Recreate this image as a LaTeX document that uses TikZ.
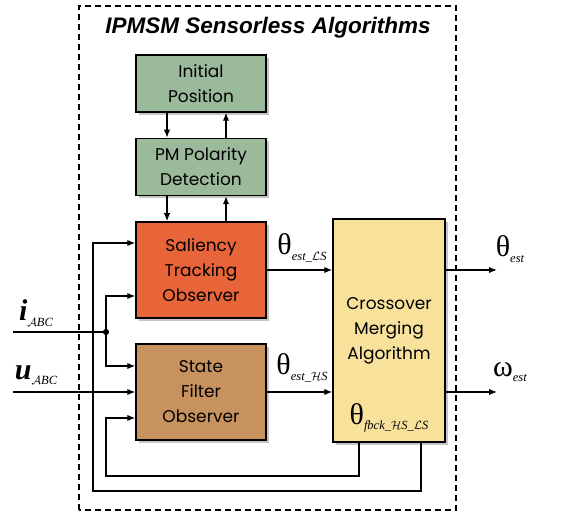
\documentclass[tikz,border=0pt]{standalone}
\usepackage{amsmath,amssymb}
\usepackage{fontspec}
\setmainfont{Poppins}
\newfontfamily\titlefont{Liberation Sans}
\newfontfamily\symfont{Liberation Serif}
\usepackage{tikz}
\usetikzlibrary{shapes, arrows, arrows.meta, shadows}
\definecolor{pmgreen}{RGB}{155,185,155}
\definecolor{salred}{RGB}{232,101,58}
\definecolor{sftan}{RGB}{200,146,94}
\definecolor{cmyellow}{RGB}{247,225,155}
\tikzstyle{block} =
        [
                rectangle,
                draw,
                line width = 1.5pt,
                align = center,
                minimum width = 130pt,
                minimum height = 57pt,
                font = \fontsize{17}{25}\selectfont,
                drop shadow = {shadow xshift = 3pt, shadow yshift = -3pt, fill = black!45}
        ]
\tikzstyle{line} =
        [
                draw,
                line width = 1.4pt,
                -{Latex[length = 8pt, width = 6.5pt]}
        ]
\tikzstyle{wire} =
        [
                draw,
                line width = 1.4pt
        ]
\tikzstyle{dot} =
        [
                circle,
                fill,
                inner sep = 2.2pt
        ]
\tikzstyle{sig} =
        [
                inner sep = 0pt
        ]
\newcommand{\sig}[2]{{\symfont\fontsize{30}{30}\selectfont #1}\raisebox{-1.0ex}{\symfont\itshape\fontsize{12.5}{12.5}\selectfont #2}}
\newcommand{\phase}[2]{{\symfont\bfseries\itshape\fontsize{30}{30}\selectfont #1}\raisebox{-1.0ex}{\symfont\itshape\fontsize{12.5}{12.5}\selectfont #2}}

\begin{document}
\begin{tikzpicture}[x = 1pt, y = 1pt, node distance = 83.5pt]
        \useasboundingbox (0,0) rectangle (574,511);
        \draw [line width = 1.4pt, dash pattern = on 6pt off 4pt] (79,1) rectangle (456,505);
        \node (title) at (268,483) {\titlefont\bfseries\itshape\fontsize{22.5}{22.5}\selectfont IPMSM Sensorless Algorithms};
        \node [block, fill = pmgreen] (init) at (201,427.5) {Initial\\Position};
        \node [block, fill = pmgreen, below of = init] (polarity) {PM Polarity\\Detection};
        \node [block, fill = salred, minimum height = 96pt, below of = polarity, node distance = 103pt] (saliency) {Saliency\\Tracking\\Observer};
        \node [block, fill = sftan, minimum height = 96pt, below of = saliency, node distance = 122pt] (statefilter) {State\\Filter\\Observer};
        \node [block, fill = cmyellow, minimum width = 112pt, minimum height = 223pt] (merging) at (389,180.5) {Crossover\\Merging\\Algorithm};
        \node [sig] (thetaFB) at (389,93) {\sig{θ}{fbck\_$\mathcal{H}$S\_$\mathcal{L}$S}};
        \node [sig] (thetaLS) at (302,263) {\sig{θ}{est\_$\mathcal{L}$S}};
        \node [sig] (thetaHS) at (302,143) {\sig{θ}{est\_$\mathcal{H}$S}};
        \node [sig] (thetaOut) at (510,262) {\sig{θ}{est}};
        \node [sig] (omegaOut) at (510,139) {\sig{ω}{est}};
        \node [sig] (iLabel) at (36,198) {\phase{i}{$\mathcal{A}$BC}};
        \node [sig] (uLabel) at (36,136) {\phase{u}{$\mathcal{A}$BC}};
        \coordinate (iin) at (13,179);
        \coordinate (uin) at (13,119);
        \coordinate (thetaEnd) at (497,241);
        \coordinate (omegaEnd) at (497,119);
        \coordinate (fbLow) at (106,35);
        \coordinate (fbHigh) at (93,20);
        \node [dot] (ijunc) at (106,179) {};
        \path [line] ([xshift = -34pt]init.south) -- ([xshift = -34pt]polarity.north);
        \path [line] ([xshift = 25pt]polarity.north) -- ([xshift = 25pt]init.south);
        \path [line] ([xshift = -34pt]polarity.south) -- ([xshift = -34pt]saliency.north);
        \path [line] ([xshift = 25pt]saliency.north) -- ([xshift = 25pt]polarity.south);
        \path [wire] (iin) -- (ijunc);
        \path [line] (ijunc) |- ([yshift = -26pt]saliency.west);
        \path [line] (ijunc) |- ([yshift = 26pt]statefilter.west);
        \path [line] (uin) -- (statefilter.west);
        \path [line] (saliency.east) -- (saliency.east -| merging.west);
        \path [line] (statefilter.east) -- (statefilter.east -| merging.west);
        \path [line] (saliency.east -| merging.east) -- (thetaEnd);
        \path [line] (statefilter.east -| merging.east) -- (omegaEnd);
        \path [line] ([xshift = -30pt]merging.south) |- (fbLow) |- ([yshift = -26pt]statefilter.west);
        \path [line] ([xshift = 32pt]merging.south) |- (fbHigh) |- ([yshift = 27pt]saliency.west);
\end{tikzpicture}
\end{document}
